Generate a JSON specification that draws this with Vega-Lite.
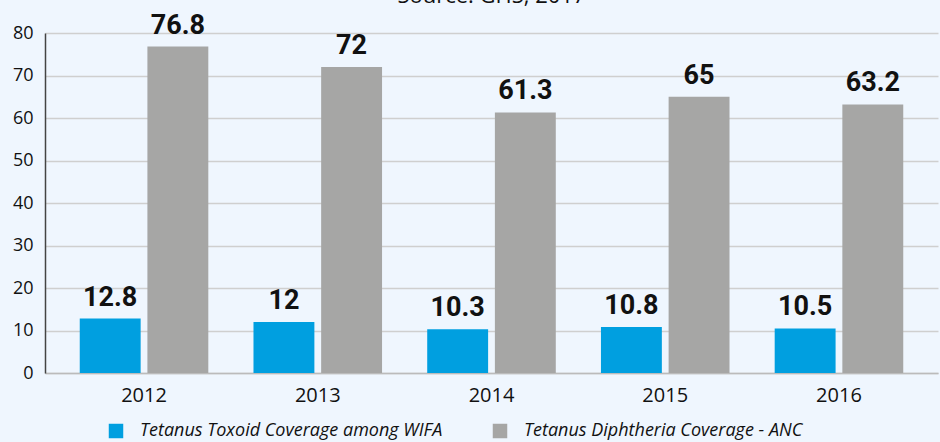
{
  "$schema": "https://vega.github.io/schema/vega-lite/v6.json",
  "width": 893,
  "height": 340,
  "autosize": {"type": "none"},
  "padding": {"left": 45, "right": 2, "top": 33, "bottom": 69},
  "background": "#EFF6FE",
  "title": {"text": "Source: GHS, 2017", "fontSize": 22, "fontWeight": "normal", "font": "Open Sans", "color": "#111", "offset": 4, "anchor": "middle"},
  "data": {"values": [
    {"year": "2012", "series": "Tetanus Toxoid Coverage among WIFA", "value": 12.8},
    {"year": "2012", "series": "Tetanus Diphtheria Coverage - ANC", "value": 76.8},
    {"year": "2013", "series": "Tetanus Toxoid Coverage among WIFA", "value": 12},
    {"year": "2013", "series": "Tetanus Diphtheria Coverage - ANC", "value": 72},
    {"year": "2014", "series": "Tetanus Toxoid Coverage among WIFA", "value": 10.3},
    {"year": "2014", "series": "Tetanus Diphtheria Coverage - ANC", "value": 61.3},
    {"year": "2015", "series": "Tetanus Toxoid Coverage among WIFA", "value": 10.8},
    {"year": "2015", "series": "Tetanus Diphtheria Coverage - ANC", "value": 65},
    {"year": "2016", "series": "Tetanus Toxoid Coverage among WIFA", "value": 10.5},
    {"year": "2016", "series": "Tetanus Diphtheria Coverage - ANC", "value": 63.2}
  ]},
  "encoding": {
    "x": {"field": "year", "type": "nominal", "title": null,
          "scale": {"paddingInner": 0.26, "paddingOuter": 0.2},
          "axis": {"labelAngle": 0, "labelFontSize": 20, "labelFont": "Open Sans", "labelColor": "#111", "ticks": false, "domainColor": "#BBBBBB", "domainWidth": 1.5, "labelPadding": 12, "grid": false}},
    "xOffset": {"field": "series", "type": "nominal", "sort": ["Tetanus Toxoid Coverage among WIFA", "Tetanus Diphtheria Coverage - ANC"], "scale": {"paddingInner": 0.1}},
    "y": {"field": "value", "type": "quantitative", "title": null,
          "scale": {"domain": [0, 80]},
          "axis": {"values": [0,10,20,30,40,50,60,70,80], "labelFontSize": 18, "labelFont": "Open Sans", "labelColor": "#111", "ticks": false, "domainColor": "#444444", "domainWidth": 1.5, "gridColor": "#CFCFCF", "gridWidth": 1.5, "labelPadding": 12}}
  },
  "layer": [
    {"mark": {"type": "bar"},
     "encoding": {"color": {"field": "series", "type": "nominal", "sort": ["Tetanus Toxoid Coverage among WIFA", "Tetanus Diphtheria Coverage - ANC"],
        "scale": {"range": ["#009FE0", "#A6A6A5"]},
        "legend": {"orient": "none", "legendX": 62, "legendY": 389, "direction": "horizontal", "title": null, "symbolType": "square", "symbolSize": 210, "symbolStrokeWidth": 0, "labelFontSize": 18, "labelFontStyle": "italic", "labelFont": "Open Sans", "labelColor": "#111", "labelLimit": 0, "columnPadding": 48, "labelOffset": 15}}}},
    {"mark": {"type": "text", "dy": -13, "baseline": "alphabetic", "font": "Roboto", "fontWeight": "bold", "fontSize": 27, "color": "#111"},
     "encoding": {"text": {"field": "value", "type": "quantitative", "format": "~g"}}}
  ],
  "config": {"view": {"stroke": null}}
}
